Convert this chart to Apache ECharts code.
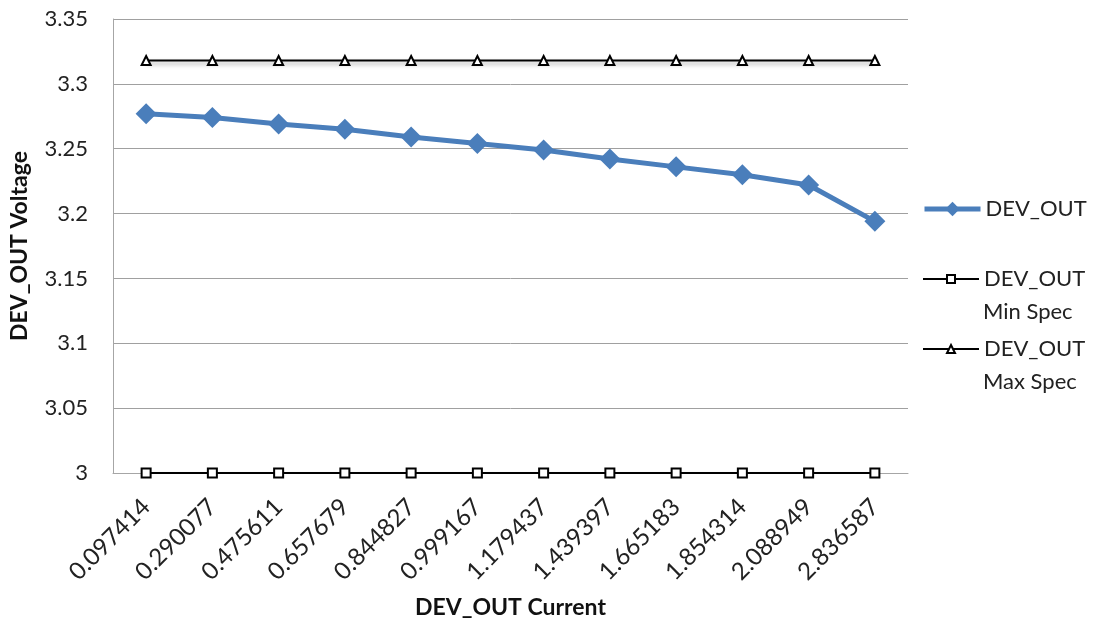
<!DOCTYPE html>
<html>
<head>
<meta charset="utf-8">
<script src="https://cdn.jsdelivr.net/npm/echarts@6/dist/echarts.min.js"></script>
<style>
  html, body { margin: 0; padding: 0; background: #fff; }
  #chart { width: 1096px; height: 627px; }
</style>
</head>
<body>
<div id="chart"></div>
<script>
// categories (current) and values
var currents = ["0.097414", "0.290077", "0.475611", "0.657679", "0.844827", "0.999167",
                "1.179437", "1.439397", "1.665183", "1.854314", "2.088949", "2.836587"];
var devOut = [3.277, 3.274, 3.269, 3.265, 3.259, 3.254, 3.249, 3.242, 3.236, 3.230, 3.222, 3.194];
var minSpec = [3, 3, 3, 3, 3, 3, 3, 3, 3, 3, 3, 3];
var maxSpec = [3.318, 3.318, 3.318, 3.318, 3.318, 3.318, 3.318, 3.318, 3.318, 3.318, 3.318, 3.318];

var font = "Lato";
var chart = echarts.init(document.getElementById("chart"));

var option = {
    animation: false,
    textStyle: { fontFamily: font },
    grid: { left: 111, right: 188, top: 19, bottom: 154 },
    xAxis: {
        type: "category",
        data: currents,
        boundaryGap: true,
        name: "DEV_OUT Current",
        nameLocation: "middle",
        nameGap: 123,
        nameTextStyle: { fontSize: 23, fontWeight: "bold", color: "#111", fontFamily: font },
        axisLine: { lineStyle: { color: "#a6a6a6", width: 1 } },
        axisTick: { show: false },
        axisLabel: { rotate: 45, fontSize: 24, color: "#222", margin: 30, interval: 0, fontFamily: font }
    },
    yAxis: {
        type: "value",
        min: 3,
        max: 3.35,
        interval: 0.05,
        name: "DEV_OUT Voltage",
        nameLocation: "middle",
        nameGap: 82,
        nameTextStyle: { fontSize: 23, fontWeight: "bold", color: "#111", fontFamily: font },
        axisLine: { show: true, lineStyle: { color: "#a6a6a6", width: 1 } },
        axisTick: { show: false },
        splitLine: { lineStyle: { color: "#a0a0a0", width: 1 } },
        axisLabel: { fontSize: 22, color: "#222", margin: 25, fontFamily: font }
    },
    legend: [
        {
            data: ["DEV_OUT"], orient: "vertical", left: 922, top: 198, padding: 0,
            itemWidth: 56, itemHeight: 18,
            lineStyle: { width: 5 },
            textStyle: { fontSize: 22, color: "#222", fontFamily: font }
        },
        {
            data: ["DEV_OUT Min Spec"], orient: "vertical", left: 922, top: 268, padding: 0,
            itemWidth: 56, itemHeight: 10,
            formatter: function () { return "DEV_OUT"; },
            textStyle: { fontSize: 22, color: "#222", fontFamily: font }
        },
        {
            data: ["DEV_OUT Max Spec"], orient: "vertical", left: 922, top: 338, padding: 0,
            itemWidth: 56, itemHeight: 10,
            formatter: function () { return "DEV_OUT"; },
            textStyle: { fontSize: 22, color: "#222", fontFamily: font }
        }
    ],
    graphic: [
        { type: "text", left: 983, top: 301, style: { text: "Min Spec", fontSize: 22, fill: "#222", fontFamily: font } },
        { type: "text", left: 983, top: 371, style: { text: "Max Spec", fontSize: 22, fill: "#222", fontFamily: font } }
    ],
    series: [
        {
            name: "DEV_OUT",
            type: "line",
            data: devOut,
            z: 5,
            color: "#4a7ebb",
            lineStyle: { width: 5, color: "#4a7ebb" },
            symbol: "diamond",
            symbolSize: 21,
            itemStyle: { color: "#4a7ebb", borderWidth: 0 }
        },
        {
            name: "DEV_OUT Min Spec",
            type: "line",
            data: minSpec,
            color: "#000",
            lineStyle: { width: 2, color: "#000", shadowColor: "rgba(0,0,0,0.35)", shadowBlur: 4, shadowOffsetY: 3 },
            symbol: "rect",
            symbolSize: 9,
            showAllSymbol: true,
            itemStyle: { color: "#fff", borderColor: "#000", borderWidth: 2 }
        },
        {
            name: "DEV_OUT Max Spec",
            type: "line",
            data: maxSpec,
            color: "#000",
            lineStyle: { width: 2, color: "#000", shadowColor: "rgba(0,0,0,0.35)", shadowBlur: 4, shadowOffsetY: 3 },
            symbol: "triangle",
            symbolSize: 9,
            showAllSymbol: true,
            itemStyle: { color: "#fff", borderColor: "#000", borderWidth: 2 }
        }
    ]
};

chart.setOption(option);
</script>
</body>
</html>
